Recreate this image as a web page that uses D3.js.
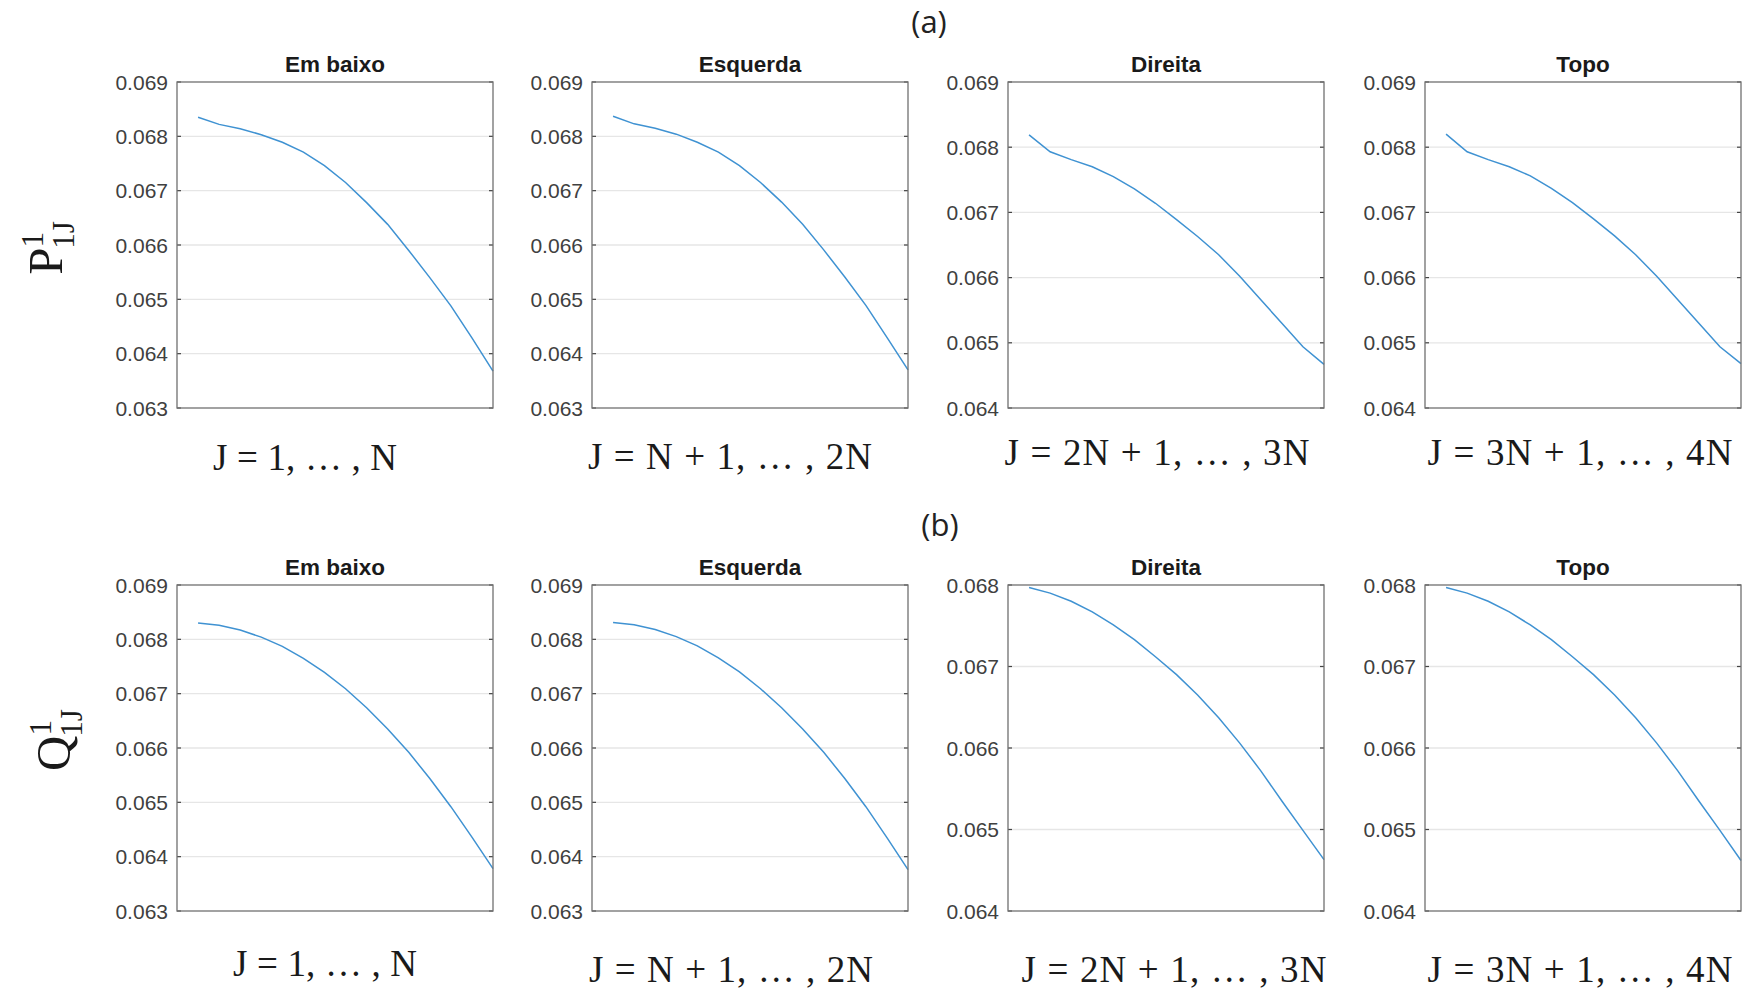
<!DOCTYPE html>
<html>
<head>
<meta charset="utf-8">
<style>
  body {
    background-color: white;
    margin: 0px;
  }
  .tick-label {
    font-family: "Liberation Sans", Arial, sans-serif;
    font-size: 21px;
    fill: #404040;
  }
  .title {
    font-family: "Liberation Sans", Arial, sans-serif;
    font-weight: bold;
    font-size: 22.5px;
    fill: #1a1a1a;
  }
  .math {
    font-family: "Liberation Serif", "DejaVu Serif", serif;
    fill: #1a1a1a;
  }
  .part {
    font-family: "Open Sans", "Noto Sans", sans-serif;
    font-size: 31px;
    fill: #222;
  }
</style>
<script src="https://cdn.jsdelivr.net/npm/d3@7"></script>
</head>
<body>
<svg></svg>
<script>
const width = 1751,
    height = 994;

// node index J inside each side (N = 15)
const J = [1, 2, 3, 4, 5, 6, 7, 8, 9, 10, 11, 12, 13, 14, 15];

// (a) P^1_1J
const pEmBaixo  = [0.06835, 0.06822, 0.06814, 0.06803, 0.06789, 0.06771, 0.06746, 0.06715, 0.06678, 0.06638, 0.06590, 0.06540, 0.06488, 0.06429, 0.06368];
const pEsquerda = [0.06837, 0.06823, 0.06815, 0.06804, 0.06789, 0.06771, 0.06746, 0.06715, 0.06679, 0.06638, 0.06591, 0.06541, 0.06489, 0.06430, 0.06370];
const pDireita  = [0.06819, 0.06793, 0.06781, 0.06770, 0.06755, 0.06736, 0.06714, 0.06689, 0.06663, 0.06635, 0.06602, 0.06566, 0.06530, 0.06494, 0.06467];
const pTopo     = [0.06820, 0.06793, 0.06781, 0.06770, 0.06756, 0.06737, 0.06715, 0.06690, 0.06664, 0.06635, 0.06602, 0.06566, 0.06530, 0.06494, 0.06468];

// (b) Q^1_1J
const qEmBaixo  = [0.06830, 0.06826, 0.06817, 0.06804, 0.06787, 0.06765, 0.06739, 0.06709, 0.06674, 0.06635, 0.06592, 0.06544, 0.06492, 0.06436, 0.06378];
const qEsquerda = [0.06831, 0.06827, 0.06818, 0.06805, 0.06788, 0.06766, 0.06740, 0.06709, 0.06674, 0.06635, 0.06592, 0.06544, 0.06492, 0.06435, 0.06376];
const qDireita  = [0.06797, 0.06790, 0.06780, 0.06767, 0.06751, 0.06733, 0.06712, 0.06690, 0.06665, 0.06637, 0.06606, 0.06572, 0.06535, 0.06499, 0.06463];
const qTopo     = [0.06797, 0.06790, 0.06780, 0.06767, 0.06751, 0.06733, 0.06712, 0.06690, 0.06665, 0.06637, 0.06606, 0.06572, 0.06535, 0.06499, 0.06462];

const titles = ["Em baixo", "Esquerda", "Direita", "Topo"];
const xLabels = ["J = 1, … , N", "J = N + 1, … , 2N", "J = 2N + 1, … , 3N", "J = 3N + 1, … , 4N"];
const yDomainsP = [[0.063, 0.069], [0.063, 0.069], [0.064, 0.069], [0.064, 0.069]];
const yDomainsQ = [[0.063, 0.069], [0.063, 0.069], [0.064, 0.068], [0.064, 0.068]];

const svg = d3.select("svg")
    .attr("width", width)
    .attr("height", height)

const colX = [177, 592, 1008, 1425],
    boxW = 316,
    rowY = [82, 585],
    boxH = 326;

// x label centres / baselines (they are not quite aligned in the original)
const xLabelPos = [
  [[305, 470], [730, 469], [1157, 465], [1580, 465]],
  [[325, 976], [731, 982], [1174, 982], [1580, 982]]
];
// the math font spaces operators wider than a plain serif does
const xLabelWidth = [184, 284, 305, 305];

const rows = [
  {series: [pEmBaixo, pEsquerda, pDireita, pTopo], domains: yDomainsP},
  {series: [qEmBaixo, qEsquerda, qDireita, qTopo], domains: yDomainsQ}
];

const x = d3.scaleLinear().domain([0, 15]);

rows.forEach(function(row, r) {
  row.series.forEach(function(vals, c) {
    const g = svg.append("g")
        .attr("transform", "translate(" + colX[c] + "," + rowY[r] + ")");

    const xs = x.copy().range([0, boxW]);
    const ys = d3.scaleLinear().domain(row.domains[c]).range([boxH, 0]);
    const ticks = d3.range(row.domains[c][0], row.domains[c][1] + 0.0005, 0.001);

    // grid
    g.selectAll(".grid")
        .data(ticks.slice(1, -1))
      .enter().append("line")
        .attr("x1", 0).attr("x2", boxW)
        .attr("y1", d => ys(d)).attr("y2", d => ys(d))
        .style("stroke", "#e6e6e6")
        .style("stroke-width", 1.3);

    // inner ticks, left and right
    [[0, 4], [boxW, boxW - 4]].forEach(function(t) {
      g.selectAll(null)
          .data(ticks)
        .enter().append("line")
          .attr("x1", t[0]).attr("x2", t[1])
          .attr("y1", d => ys(d)).attr("y2", d => ys(d))
          .style("stroke", "#444")
          .style("stroke-width", 1.2);
    });

    g.selectAll(".tick-label")
        .data(ticks)
      .enter().append("text")
        .attr("class", "tick-label")
        .attr("x", -9)
        .attr("y", d => ys(d))
        .attr("dy", "0.36em")
        .attr("text-anchor", "end")
        .text(d3.format(".3f"));

    const line = d3.line()
        .x((d, i) => xs(J[i]))
        .y(d => ys(d));

    g.append("path")
        .datum(vals)
        .attr("d", line)
        .style("fill", "none")
        .style("stroke", "#3f92d2")
        .style("stroke-width", 1.5);

    g.append("rect")
        .attr("width", boxW).attr("height", boxH)
        .style("fill", "none")
        .style("stroke", "#707070")
        .style("stroke-width", 1.3);

    g.append("text")
        .attr("class", "title")
        .attr("x", boxW / 2)
        .attr("y", -10)
        .attr("text-anchor", "middle")
        .text(titles[c]);

    svg.append("text")
        .attr("class", "math")
        .attr("x", xLabelPos[r][c][0])
        .attr("y", xLabelPos[r][c][1])
        .attr("text-anchor", "middle")
        .attr("textLength", xLabelWidth[c])
        .attr("lengthAdjust", "spacing")
        .style("font-size", "37px")
        .text(xLabels[c]);
  });
});

// part labels
svg.append("text").attr("class", "part")
    .attr("x", 929).attr("y", 33).attr("text-anchor", "middle").text("(a)");
svg.append("text").attr("class", "part")
    .attr("x", 940).attr("y", 536).attr("text-anchor", "middle").text("(b)");

// rotated y labels P^1_1J and Q^1_1J
function yLabel(letter, cx, cy) {
  const t = svg.append("text")
      .attr("class", "math")
      .attr("transform", "translate(" + cx + "," + cy + ") rotate(-90)")
      .attr("text-anchor", "middle")
      .style("font-size", "49px");
  t.append("tspan").text(letter);
  t.append("tspan").attr("dy", -19).style("font-size", "31px").text("1");
  t.append("tspan").attr("dx", -15.5).attr("dy", 31).style("font-size", "31px").text("1J");
}
yLabel("P", 62, 248);
yLabel("Q", 70, 740);
</script>
</body>
</html>
